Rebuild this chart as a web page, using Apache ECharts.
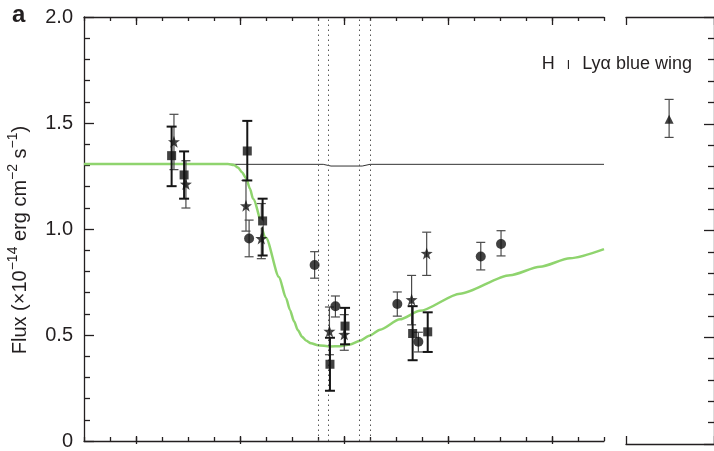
<!DOCTYPE html>
<html><head><meta charset="utf-8">
<script src="https://cdn.jsdelivr.net/npm/echarts@6/dist/echarts.min.js"></script>
<style>html,body{margin:0;padding:0;background:#fff}#c{width:714px;height:451px}</style>
</head><body><div id="c"></div>
<script>
// ---------- data ----------
const yTickValues = [0, 0.5, 1.0, 1.5, 2.0];
const xMajorTicks = [0, 4, 8, 12, 16];
const dottedX = [7.0, 7.4, 8.6, 9.0];

const modelX = [-2, 3.538, 3.769, 3.923, 4.077, 4.231, 4.385, 4.5, 5.0, 5.5, 5.769, 5.923, 6.077, 6.231, 6.385, 6.538, 6.731, 7.0, 7.462, 7.846, 8.231, 8.615, 9.0, 9.385, 10.154, 10.923, 12.462, 14.385, 15.538, 16.692, 18];
const modelY = [1.307, 1.307, 1.302, 1.290, 1.268, 1.240, 1.190, 1.143, 0.959, 0.774, 0.675, 0.618, 0.565, 0.522, 0.492, 0.474, 0.461, 0.452, 0.446, 0.447, 0.455, 0.473, 0.498, 0.525, 0.574, 0.614, 0.695, 0.782, 0.822, 0.862, 0.905];

const contX = [-2, 7.2, 7.5, 8.7, 9.0, 18];
const contY = [1.305, 1.305, 1.297, 1.297, 1.305, 1.305];

const sqX  = [1.37, 1.85, 4.28, 4.87, 7.46, 8.04, 10.64, 11.22];
const sqY  = [1.346, 1.255, 1.368, 1.038, 0.362, 0.542, 0.507, 0.515];
const sqLo = [1.202, 1.143, 1.229, 0.875, 0.237, 0.456, 0.381, 0.420];
const sqHi = [1.483, 1.366, 1.510, 1.143, 0.487, 0.628, 0.636, 0.607];

const ciX  = [4.35, 6.87, 7.67, 10.05, 10.86, 13.26, 14.04];
const ciY  = [0.955, 0.830, 0.636, 0.646, 0.468, 0.870, 0.929];
const ciLo = [0.869, 0.768, 0.585, 0.589, 0.420, 0.807, 0.873];
const ciHi = [1.042, 0.893, 0.684, 0.703, 0.513, 0.937, 0.992];

const stX  = [1.46, 1.92, 4.23, 4.82, 7.44, 8.01, 10.60, 11.18];
const stY  = [1.412, 1.212, 1.110, 0.955, 0.518, 0.503, 0.667, 0.885];
const stLo = [1.280, 1.099, 0.990, 0.860, 0.407, 0.428, 0.548, 0.781];
const stHi = [1.541, 1.322, 1.229, 1.120, 0.632, 0.596, 0.781, 0.985];

const ocX = [4.72];
const ocY = [1.026];

const triX  = [4.9];
const triY  = [1.521];
const triLo = [1.436];
const triHi = [1.614];

// ---------- chart ----------
const FONT = '"Liberation Sans", Arial, Helvetica, sans-serif';
const INK = '#231f20';
const zip2 = (a, b) => a.map((v, i) => [v, b[i]]);
const zip3 = (a, b, c) => a.map((v, i) => [v, b[i], c[i]]);
const STAR = 'path://M0,-10 L2.35,-3.24 L9.51,-3.09 L3.8,1.24 L5.88,8.09 L0,4 L-5.88,8.09 L-3.8,1.24 L-9.51,-3.09 L-2.35,-3.24 Z';

function errBar(width, color, capHalf) {
  return function (params, api) {
    const x = api.value(0), lo = api.value(1), hi = api.value(2);
    const a = api.coord([x, lo]), b = api.coord([x, hi]);
    const st = { stroke: color, lineWidth: width };
    return { type: 'group', children: [
      { type: 'line', shape: { x1: a[0], y1: a[1], x2: b[0], y2: b[1] }, style: st },
      { type: 'line', shape: { x1: a[0] - capHalf, y1: a[1], x2: a[0] + capHalf, y2: a[1] }, style: st },
      { type: 'line', shape: { x1: b[0] - capHalf, y1: b[1], x2: b[0] + capHalf, y2: b[1] }, style: st }
    ]};
  };
}

const lineSt = { color: INK, width: 1.3 };
function xAx(grid, pos, min, max, interval, len, showLine, custom) {
  const ax = {
    type: 'value', gridIndex: grid, position: pos, min: min, max: max, interval: interval,
    axisLine: { show: showLine, lineStyle: lineSt, onZero: false },
    axisTick: { show: true, inside: true, length: len, lineStyle: lineSt },
    axisLabel: { show: false }, splitLine: { show: false }
  };
  if (custom) ax.axisTick.customValues = custom;
  return ax;
}

const chart = echarts.init(document.getElementById('c'), null, { renderer: 'canvas' });
chart.setOption({
  animation: false,
  backgroundColor: '#fff',
  textStyle: { fontFamily: FONT },
  grid: [
    { left: 84, right: 110, top: 17, bottom: 7 },
    { left: 626, right: -4, top: 17, bottom: 7 },
    { left: 84, right: 110, top: 17, bottom: 7 }
  ],
  xAxis: [
    xAx(0, 'bottom', -2, 18, 1, 4, true),
    xAx(0, 'top', -2, 18, 1, 4, true),
    xAx(1, 'bottom', 0, 10, 10, 8, true),
    xAx(1, 'top', 0, 10, 10, 8, true),
    xAx(2, 'bottom', -2, 18, 4, 8, false, xMajorTicks),
    xAx(2, 'top', -2, 18, 4, 8, false, xMajorTicks)
  ],
  yAxis: [
    {
      type: 'value', gridIndex: 0, position: 'left', min: 0, max: 2, interval: 0.5,
      axisLine: { show: true, onZero: false, lineStyle: lineSt },
      axisTick: { show: true, inside: true, length: 10, lineStyle: lineSt },
      minorTick: { show: true, splitNumber: 5, length: 6, lineStyle: lineSt },
      splitLine: { show: false },
      axisLabel: { show: true, margin: 11, fontSize: 20, color: INK, fontFamily: FONT,
        formatter: v => (v === 0 ? '0' : v.toFixed(1)) }
    },
    {
      type: 'value', gridIndex: 1, position: 'right', min: 0, max: 2, interval: 0.5,
      axisLine: { show: true, onZero: false, lineStyle: lineSt },
      axisTick: { show: true, inside: true, length: 10, lineStyle: lineSt },
      minorTick: { show: true, splitNumber: 5, length: 6, lineStyle: lineSt },
      splitLine: { show: false }, axisLabel: { show: false }
    },
    { type: 'value', gridIndex: 2, min: 0, max: 2, show: false, axisLine: { onZero: false } }
  ],
  graphic: [
    { type: 'text', left: 12, top: 3, style: { text: 'a', fontSize: 24, fontWeight: 'bold', fill: INK, fontFamily: FONT } },
    { type: 'text', x: 18, y: 240, rotation: Math.PI / 2, style: {
        text: '{n|Flux (×10}{s|−14}{n| erg cm}{s|−2}{n| s}{s|−1}{n|)}',
        align: 'center', verticalAlign: 'middle',
        rich: {
          n: { fontSize: 20, fill: INK, fontFamily: FONT, lineHeight: 24, verticalAlign: 'bottom' },
          s: { fontSize: 14, fill: INK, fontFamily: FONT, lineHeight: 24, verticalAlign: 'top' }
        } } },
    { type: 'text', x: 692, y: 62, style: {
        text: '{n|H}{sc|I}{n|Lyα blue wing}', align: 'right', verticalAlign: 'middle',
        rich: {
          n: { fontSize: 18, fill: INK, fontFamily: FONT, lineHeight: 22, verticalAlign: 'bottom' },
          sc: { fontSize: 12, fill: INK, fontFamily: FONT, lineHeight: 22, verticalAlign: 'bottom', padding: [0, 12, 1, 12] }
        } } }
  ],
  series: [
    {
      type: 'line', xAxisIndex: 0, yAxisIndex: 0, data: zip2(contX, contY), symbol: 'none',
      lineStyle: { color: '#333', width: 1 }, z: 2,
      markLine: { symbol: 'none', silent: true, label: { show: false },
        lineStyle: { type: [1.5, 3.5], color: '#555', width: 1 },
        data: dottedX.map(v => ({ xAxis: v })) }
    },
    {
      type: 'line', xAxisIndex: 0, yAxisIndex: 0, data: zip2(modelX, modelY), symbol: 'none',
      smooth: 0.25, smoothMonotone: 'x',
      lineStyle: { color: '#8fd46e', width: 2.5 }, z: 3
    },
    { type: 'custom', xAxisIndex: 0, yAxisIndex: 0, data: zip3(ciX, ciLo, ciHi), renderItem: errBar(1.2, '#4a4a4a', 4.5), z: 4 },
    { type: 'custom', xAxisIndex: 0, yAxisIndex: 0, data: zip3(stX, stLo, stHi), renderItem: errBar(1.2, '#4a4a4a', 4.5), z: 4 },
    { type: 'custom', xAxisIndex: 0, yAxisIndex: 0, data: zip3(sqX, sqLo, sqHi), renderItem: errBar(2, '#151515', 5), z: 5 },
    { type: 'custom', xAxisIndex: 2, yAxisIndex: 1, data: zip3(triX, triLo, triHi), renderItem: errBar(1.2, '#4a4a4a', 4.5), z: 4 },
    { type: 'scatter', xAxisIndex: 0, yAxisIndex: 0, data: zip2(ocX, ocY), symbol: 'emptyCircle', symbolSize: 8,
      itemStyle: { color: '#fff', borderColor: '#222', borderWidth: 1.2 }, z: 5 },
    { type: 'scatter', xAxisIndex: 0, yAxisIndex: 0, data: zip2(ciX, ciY), symbol: 'circle', symbolSize: 10,
      itemStyle: { color: '#111' }, z: 6 },
    { type: 'scatter', xAxisIndex: 0, yAxisIndex: 0, data: zip2(stX, stY), symbol: STAR, symbolSize: 12,
      itemStyle: { color: '#111' }, z: 6 },
    { type: 'scatter', xAxisIndex: 0, yAxisIndex: 0, data: zip2(sqX, sqY), symbol: 'rect', symbolSize: 9,
      itemStyle: { color: '#111' }, z: 6 },
    { type: 'scatter', xAxisIndex: 2, yAxisIndex: 1, data: zip2(triX, triY), symbol: 'triangle', symbolSize: 9,
      itemStyle: { color: '#111' }, z: 6 }
  ]
});
</script>
</body></html>
